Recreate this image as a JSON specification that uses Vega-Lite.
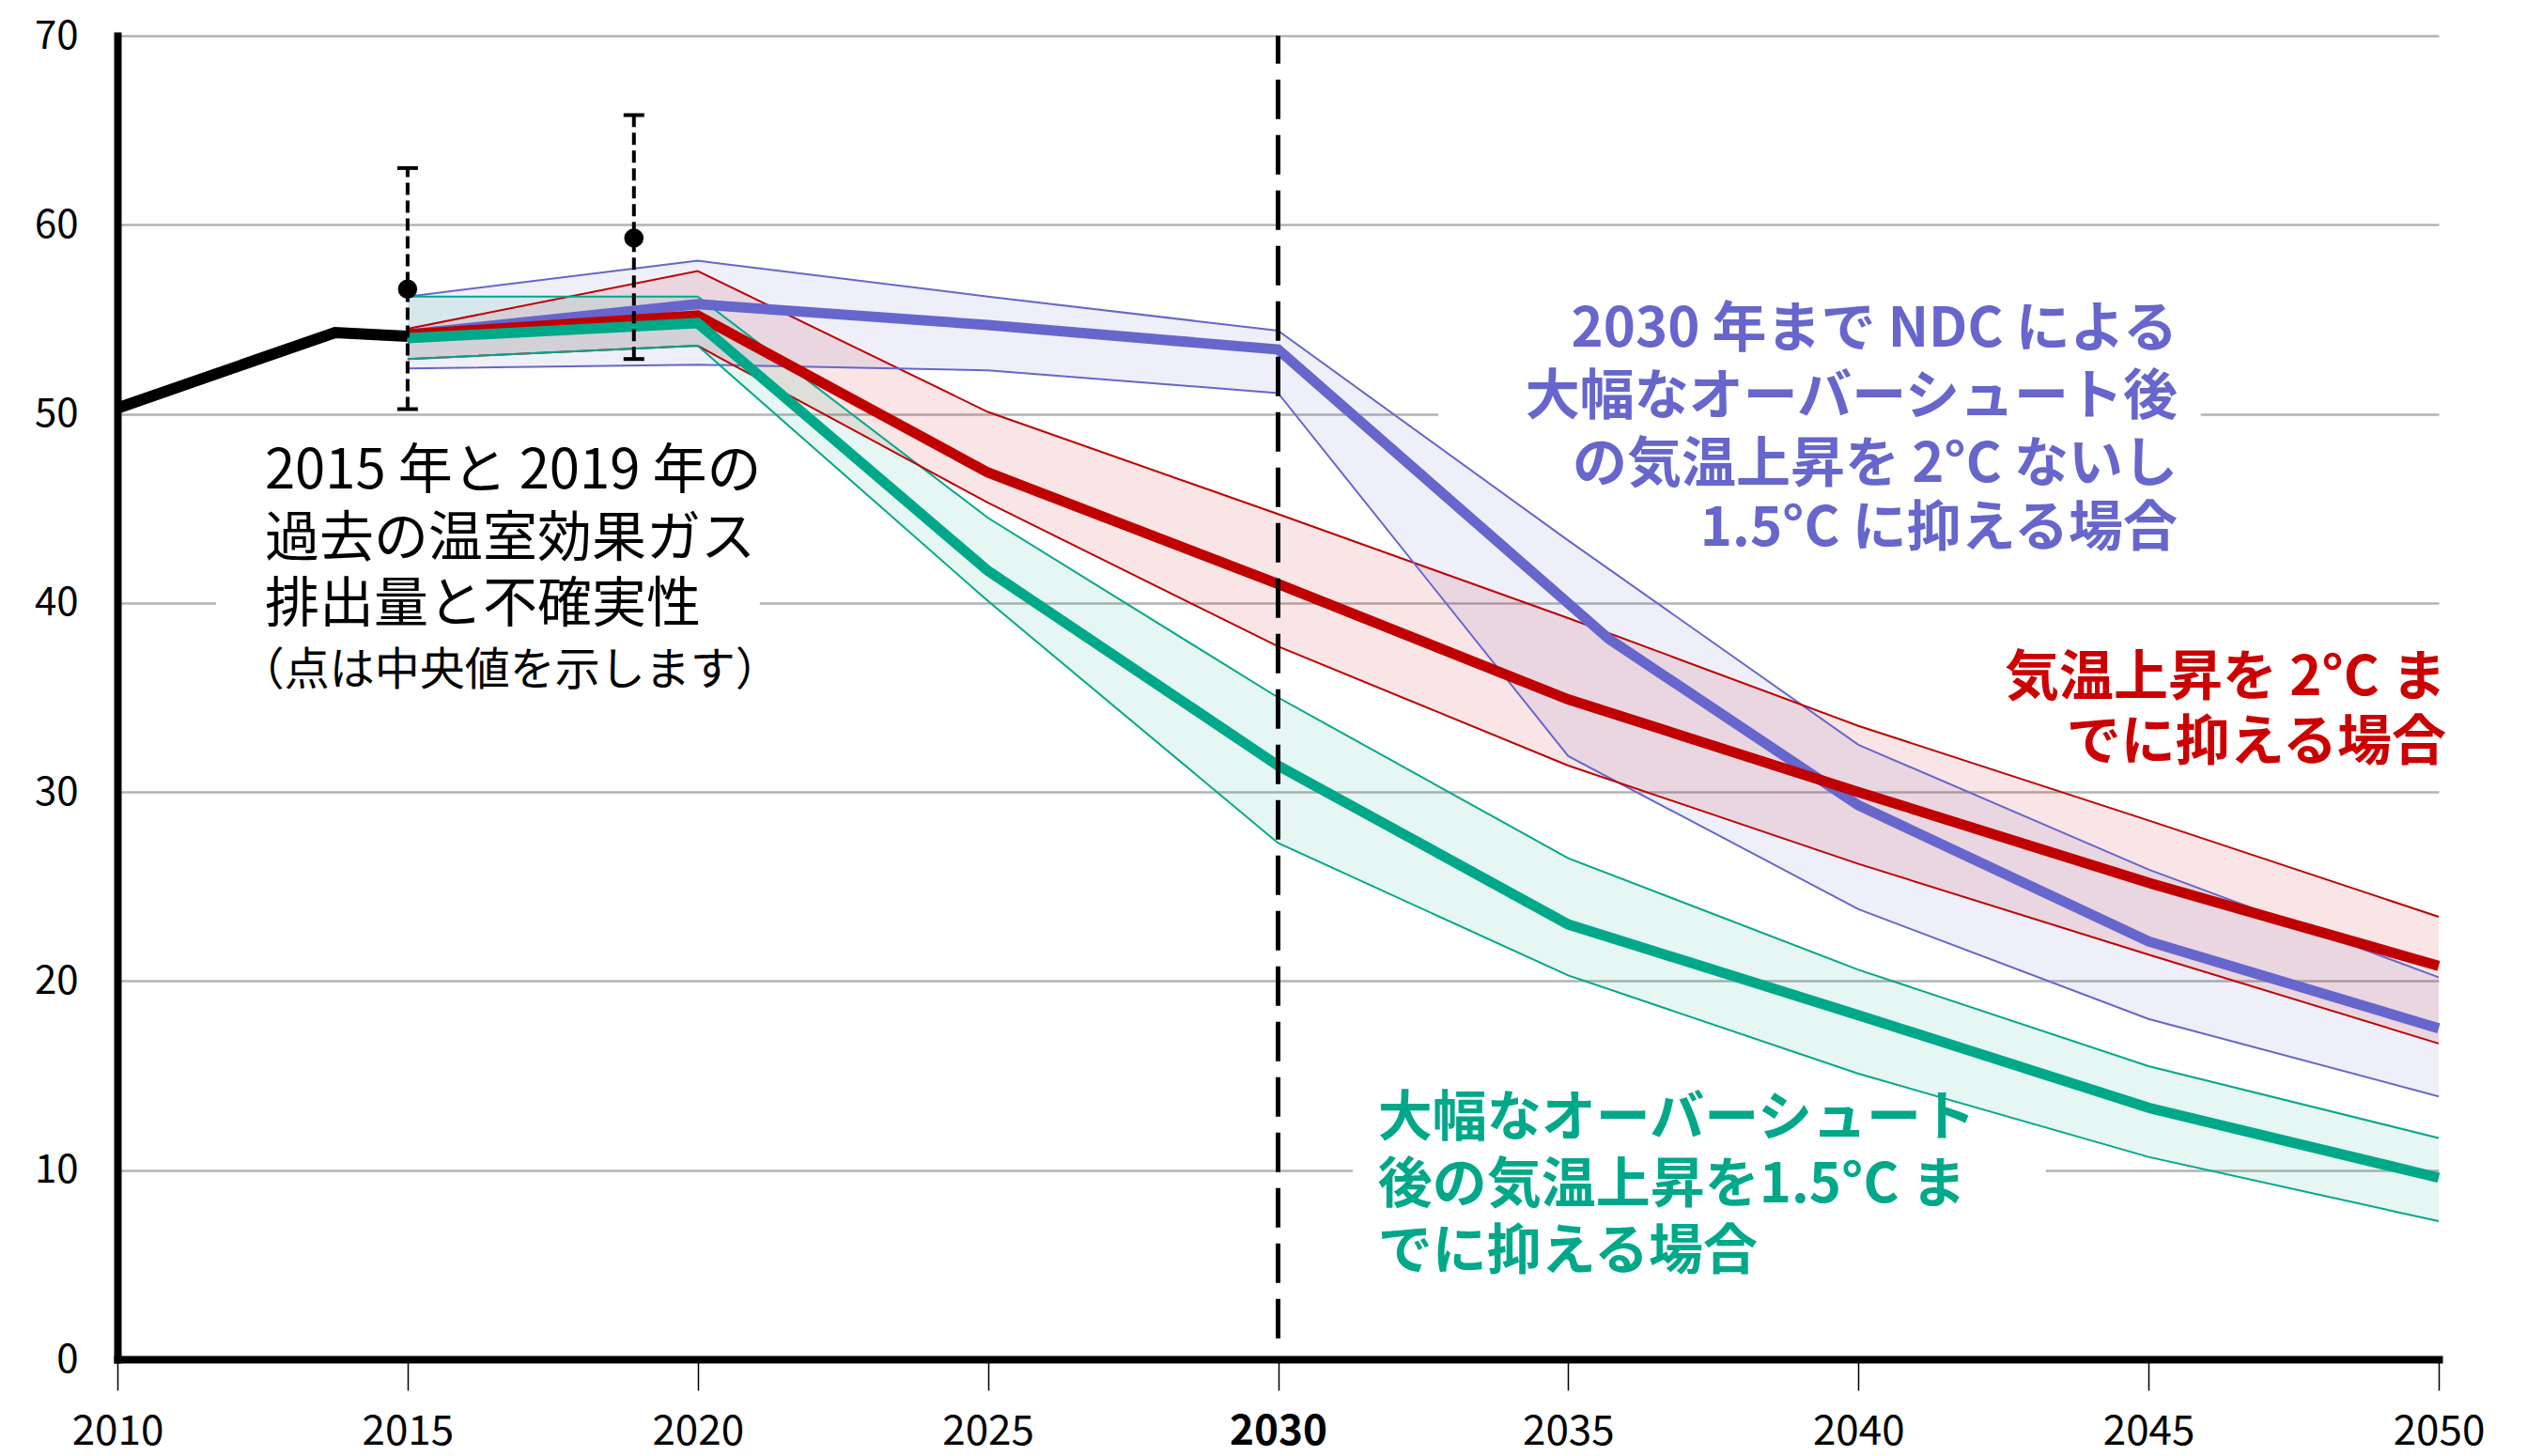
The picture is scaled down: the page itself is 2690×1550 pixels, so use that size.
{
  "$schema": "https://vega.github.io/schema/vega-lite/v6.json",
  "width": 2471,
  "height": 1409,
  "autosize": {"type": "none"},
  "padding": {"left": 125, "top": 38, "right": 94, "bottom": 103},
  "background": "white",
  "config": {"view": {"stroke": null}, "font": "Noto Sans CJK JP"},
  "datasets": {
    "band": [
      {"s": "ndc", "year": 2015, "lo": 52.4, "hi": 56.2},
      {"s": "ndc", "year": 2020, "lo": 52.6, "hi": 58.1},
      {"s": "ndc", "year": 2025, "lo": 52.3, "hi": 56.2},
      {"s": "ndc", "year": 2030, "lo": 51.1, "hi": 54.4},
      {"s": "ndc", "year": 2035, "lo": 31.9, "hi": 43.3},
      {"s": "ndc", "year": 2040, "lo": 23.8, "hi": 32.5},
      {"s": "ndc", "year": 2045, "lo": 18.0, "hi": 25.9},
      {"s": "ndc", "year": 2050, "lo": 13.9, "hi": 20.2},
      {"s": "c2", "year": 2015, "lo": 52.9, "hi": 54.5},
      {"s": "c2", "year": 2020, "lo": 53.6, "hi": 57.55},
      {"s": "c2", "year": 2025, "lo": 45.3, "hi": 50.1},
      {"s": "c2", "year": 2030, "lo": 37.7, "hi": 44.7},
      {"s": "c2", "year": 2035, "lo": 31.4, "hi": 39.2},
      {"s": "c2", "year": 2040, "lo": 26.2, "hi": 33.5},
      {"s": "c2", "year": 2045, "lo": 21.4, "hi": 28.5},
      {"s": "c2", "year": 2050, "lo": 16.7, "hi": 23.4},
      {"s": "c15", "year": 2015, "lo": 52.9, "hi": 56.2},
      {"s": "c15", "year": 2020, "lo": 53.6, "hi": 56.2},
      {"s": "c15", "year": 2025, "lo": 40.1, "hi": 44.5},
      {"s": "c15", "year": 2030, "lo": 27.3, "hi": 35.0},
      {"s": "c15", "year": 2035, "lo": 20.3, "hi": 26.5},
      {"s": "c15", "year": 2040, "lo": 15.1, "hi": 20.6},
      {"s": "c15", "year": 2045, "lo": 10.7, "hi": 15.5},
      {"s": "c15", "year": 2050, "lo": 7.3, "hi": 11.7}
    ],
    "mid": [
      {"s": "ndc", "year": 2015, "v": 54.2},
      {"s": "ndc", "year": 2020, "v": 55.8},
      {"s": "ndc", "year": 2025, "v": 54.7},
      {"s": "ndc", "year": 2030, "v": 53.4},
      {"s": "ndc", "year": 2035.7, "v": 38.1},
      {"s": "ndc", "year": 2040, "v": 29.3},
      {"s": "ndc", "year": 2045, "v": 22.1},
      {"s": "ndc", "year": 2050, "v": 17.5},
      {"s": "c2", "year": 2015, "v": 54.2},
      {"s": "c2", "year": 2020, "v": 55.2},
      {"s": "c2", "year": 2025, "v": 46.9},
      {"s": "c2", "year": 2030, "v": 41.0},
      {"s": "c2", "year": 2035, "v": 34.9},
      {"s": "c2", "year": 2040, "v": 30.0},
      {"s": "c2", "year": 2045, "v": 25.2},
      {"s": "c2", "year": 2050, "v": 20.8},
      {"s": "c15", "year": 2015, "v": 54.0},
      {"s": "c15", "year": 2020, "v": 54.8},
      {"s": "c15", "year": 2025, "v": 41.7},
      {"s": "c15", "year": 2030, "v": 31.4},
      {"s": "c15", "year": 2035, "v": 23.0},
      {"s": "c15", "year": 2040, "v": 18.2},
      {"s": "c15", "year": 2045, "v": 13.3},
      {"s": "c15", "year": 2050, "v": 9.6}
    ],
    "hist": [
      {"year": 2010, "v": 50.3},
      {"year": 2013.75, "v": 54.3},
      {"year": 2015, "v": 54.1}
    ],
    "err": [
      {"year": 2015, "lo": 50.25, "med": 56.6, "hi": 63.0},
      {"year": 2018.9, "lo": 52.9, "med": 59.3, "hi": 65.8}
    ],
    "mask": [
      {"x1": 2011.7, "x2": 2021.07, "y1": 38.5, "y2": 41.5},
      {"x1": 2032.76, "x2": 2045.9, "y1": 48.5, "y2": 51.5},
      {"x1": 2031.29, "x2": 2043.23, "y1": 8.5, "y2": 11.5}
    ],
    "ref": [{"year": 2030, "y1": 1.1, "y2": 70}],
    "notes": [
      {"g": "k", "label": "2015 年と 2019 年の", "year": 2012.54, "value": 46.9},
      {"g": "k", "label": "過去の温室効果ガス", "year": 2012.54, "value": 43.3},
      {"g": "k", "label": "排出量と不確実性", "year": 2012.54, "value": 39.84},
      {"g": "k2", "label": "（点は中央値を示します）", "year": 2012.1, "value": 36.36},
      {"g": "b", "label": "2030 年まで NDC による", "year": 2045.5, "value": 54.4},
      {"g": "b", "label": "大幅なオーバーシュート後", "year": 2045.5, "value": 50.82},
      {"g": "b", "label": "の気温上昇を 2°C ないし", "year": 2045.5, "value": 47.24},
      {"g": "b", "label": "1.5°C に抑える場合", "year": 2045.5, "value": 43.86},
      {"g": "r", "label": "気温上昇を 2°C ま", "year": 2050.13, "value": 35.97},
      {"g": "r", "label": "でに抑える場合", "year": 2050.13, "value": 32.54},
      {"g": "gr", "label": "大幅なオーバーシュート", "year": 2031.72, "value": 12.67},
      {"g": "gr", "label": "後の気温上昇を1.5°C ま", "year": 2031.72, "value": 9.14},
      {"g": "gr", "label": "でに抑える場合", "year": 2031.72, "value": 5.61}
    ]
  },
  "layer": [
    {
      "data": {"name": "mask"},
      "mark": {"type": "rect", "fill": "white"},
      "encoding": {
        "x": {
          "field": "x1", "type": "quantitative", "title": null,
          "scale": {"domain": [2010, 2050], "nice": false, "zero": false},
          "axis": {
            "values": [2010, 2015, 2020, 2025, 2030, 2035, 2040, 2045, 2050],
            "format": "d", "grid": false,
            "domainColor": "black", "domainWidth": 8, "domainCap": "square",
            "tickColor": "black", "tickWidth": 1.5, "tickSize": 33,
            "labelFont": "Noto Sans CJK JP", "labelFontSize": 44, "labelColor": "black",
            "labelPadding": 22, "labelFlush": false, "labelOverlap": false,
            "labelFontWeight": {"condition": {"test": "datum.value === 2030", "value": "bold"}, "value": "normal"}
          }
        },
        "x2": {"field": "x2"},
        "y": {
          "field": "y1", "type": "quantitative", "title": null,
          "scale": {"domain": [0, 70], "nice": false},
          "axis": {
            "values": [0, 10, 20, 30, 40, 50, 60, 70],
            "grid": true, "gridColor": "#B3B3B3", "gridWidth": 2.5,
            "ticks": false, "tickSize": 0,
            "domainColor": "black", "domainWidth": 8, "domainCap": "square",
            "labelFont": "Noto Sans CJK JP", "labelFontSize": 42, "labelColor": "black",
            "labelPadding": 42, "labelFlush": false
          }
        },
        "y2": {"field": "y2"}
      }
    },
    {
      "data": {"name": "band"},
      "mark": {"type": "area", "fillOpacity": 0.1},
      "encoding": {
        "x": {"field": "year", "type": "quantitative", "title": null},
        "y": {"field": "lo", "type": "quantitative", "title": null},
        "y2": {"field": "hi"},
        "color": {"field": "s", "type": "nominal", "legend": null,
          "scale": {"domain": ["ndc", "c2", "c15"], "range": ["#6666CC", "#C00000", "#00A88A"]}}
      }
    },
    {
      "data": {"name": "band"},
      "mark": {"type": "line", "strokeWidth": 2},
      "encoding": {
        "x": {"field": "year", "type": "quantitative", "title": null},
        "y": {"field": "hi", "type": "quantitative", "title": null},
        "color": {"field": "s", "type": "nominal", "legend": null}
      }
    },
    {
      "data": {"name": "band"},
      "mark": {"type": "line", "strokeWidth": 2},
      "encoding": {
        "x": {"field": "year", "type": "quantitative", "title": null},
        "y": {"field": "lo", "type": "quantitative", "title": null},
        "color": {"field": "s", "type": "nominal", "legend": null}
      }
    },
    {
      "data": {"name": "hist"},
      "mark": {"type": "line", "strokeWidth": 12, "color": "black"},
      "encoding": {
        "x": {"field": "year", "type": "quantitative", "title": null},
        "y": {"field": "v", "type": "quantitative", "title": null}
      }
    },
    {
      "data": {"name": "mid"},
      "transform": [{"filter": "datum.s === 'ndc'"}],
      "mark": {"type": "line", "strokeWidth": 11, "color": "#6666CC"},
      "encoding": {
        "x": {"field": "year", "type": "quantitative", "title": null},
        "y": {"field": "v", "type": "quantitative", "title": null}
      }
    },
    {
      "data": {"name": "mid"},
      "transform": [{"filter": "datum.s === 'c2'"}],
      "mark": {"type": "line", "strokeWidth": 11, "color": "#C00000"},
      "encoding": {
        "x": {"field": "year", "type": "quantitative", "title": null},
        "y": {"field": "v", "type": "quantitative", "title": null}
      }
    },
    {
      "data": {"name": "mid"},
      "transform": [{"filter": "datum.s === 'c15'"}],
      "mark": {"type": "line", "strokeWidth": 11, "color": "#00A88A"},
      "encoding": {
        "x": {"field": "year", "type": "quantitative", "title": null},
        "y": {"field": "v", "type": "quantitative", "title": null}
      }
    },
    {
      "data": {"name": "err"},
      "mark": {"type": "rule", "strokeWidth": 4, "strokeDash": [13, 6], "color": "black"},
      "encoding": {
        "x": {"field": "year", "type": "quantitative", "title": null},
        "y": {"field": "lo", "type": "quantitative", "title": null},
        "y2": {"field": "hi"}
      }
    },
    {
      "data": {"name": "err"},
      "mark": {"type": "tick", "orient": "horizontal", "size": 22, "thickness": 4, "color": "black", "opacity": 1},
      "encoding": {
        "x": {"field": "year", "type": "quantitative", "title": null},
        "y": {"field": "lo", "type": "quantitative", "title": null}
      }
    },
    {
      "data": {"name": "err"},
      "mark": {"type": "tick", "orient": "horizontal", "size": 22, "thickness": 4, "color": "black", "opacity": 1},
      "encoding": {
        "x": {"field": "year", "type": "quantitative", "title": null},
        "y": {"field": "hi", "type": "quantitative", "title": null}
      }
    },
    {
      "data": {"name": "err"},
      "mark": {"type": "point", "filled": true, "size": 420, "color": "black", "opacity": 1},
      "encoding": {
        "x": {"field": "year", "type": "quantitative", "title": null},
        "y": {"field": "med", "type": "quantitative", "title": null}
      }
    },
    {
      "data": {"name": "ref"},
      "mark": {"type": "rule", "strokeWidth": 5, "strokeDash": [42, 17], "color": "black"},
      "encoding": {
        "x": {"field": "year", "type": "quantitative", "title": null},
        "y": {"field": "y1", "type": "quantitative", "title": null},
        "y2": {"field": "y2"}
      }
    },
    {
      "data": {"name": "notes"},
      "transform": [{"filter": "datum.g === 'k'"}],
      "mark": {"type": "text", "align": "left", "baseline": "middle", "font": "Noto Sans CJK JP", "fontSize": 58, "color": "black"},
      "encoding": {
        "x": {"field": "year", "type": "quantitative", "title": null},
        "y": {"field": "value", "type": "quantitative", "title": null},
        "text": {"field": "label"}
      }
    },
    {
      "data": {"name": "notes"},
      "transform": [{"filter": "datum.g === 'k2'"}],
      "mark": {"type": "text", "align": "left", "baseline": "middle", "font": "Noto Sans CJK JP", "fontSize": 48, "color": "black"},
      "encoding": {
        "x": {"field": "year", "type": "quantitative", "title": null},
        "y": {"field": "value", "type": "quantitative", "title": null},
        "text": {"field": "label"}
      }
    },
    {
      "data": {"name": "notes"},
      "transform": [{"filter": "datum.g === 'b'"}],
      "mark": {"type": "text", "align": "right", "baseline": "middle", "font": "Noto Sans CJK JP", "fontSize": 58, "fontWeight": "bold", "color": "#6666CC"},
      "encoding": {
        "x": {"field": "year", "type": "quantitative", "title": null},
        "y": {"field": "value", "type": "quantitative", "title": null},
        "text": {"field": "label"}
      }
    },
    {
      "data": {"name": "notes"},
      "transform": [{"filter": "datum.g === 'r'"}],
      "mark": {"type": "text", "align": "right", "baseline": "middle", "font": "Noto Sans CJK JP", "fontSize": 58, "fontWeight": "bold", "color": "#CC0000"},
      "encoding": {
        "x": {"field": "year", "type": "quantitative", "title": null},
        "y": {"field": "value", "type": "quantitative", "title": null},
        "text": {"field": "label"}
      }
    },
    {
      "data": {"name": "notes"},
      "transform": [{"filter": "datum.g === 'gr'"}],
      "mark": {"type": "text", "align": "left", "baseline": "middle", "font": "Noto Sans CJK JP", "fontSize": 58, "fontWeight": "bold", "color": "#00A88A"},
      "encoding": {
        "x": {"field": "year", "type": "quantitative", "title": null},
        "y": {"field": "value", "type": "quantitative", "title": null},
        "text": {"field": "label"}
      }
    }
  ]
}
